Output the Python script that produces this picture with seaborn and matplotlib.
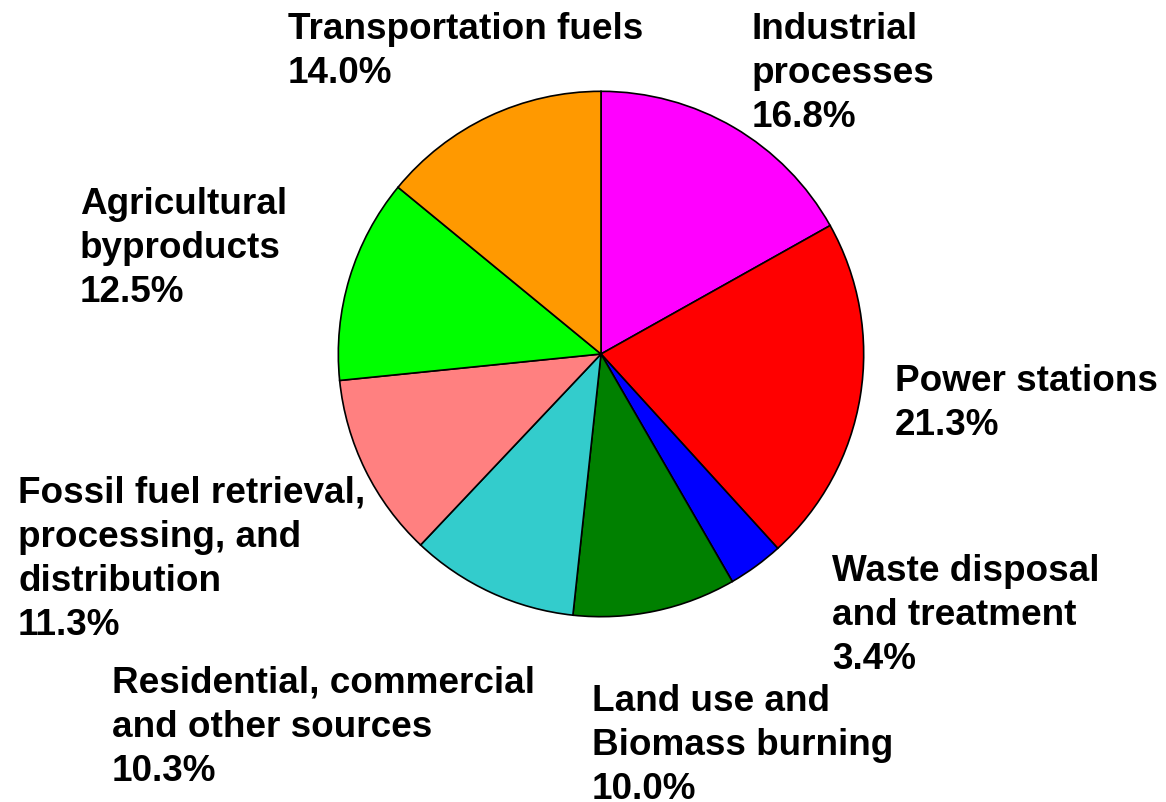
import matplotlib
matplotlib.use('Agg')
import matplotlib.pyplot as plt
import seaborn as sns

sns.set_theme(style='white')
plt.rcParams['font.family'] = ['Liberation Sans', 'DejaVu Sans']

# Данные
sources = ['Industrial\nprocesses', 'Power stations', 'Waste disposal\nand treatment',
           'Land use and\nBiomass burning', 'Residential, commercial\nand other sources',
           'Fossil fuel retrieval,\nprocessing, and\ndistribution',
           'Agricultural\nbyproducts', 'Transportation fuels']
shares = [16.8, 21.3, 3.4, 10.0, 10.3, 11.3, 12.5, 14.0]
colors = ['#FF00FF', '#FF0000', '#0000FF', '#008000', '#33CCCC', '#FF8080', '#00FF00', '#FF9900']

# Положение подписей (пиксели, левый верхний угол)
label_pos = [(752, 12), (895, 364), (832, 554), (592, 684),
             (112, 666), (18, 476), (80, 187), (288, 12)]

W, H = 1166, 803
fig = plt.figure(figsize=(W / 100, H / 100), dpi=100)
cx, cy, r = 601, 355, 264
ax = fig.add_axes([(cx - r) / W, (H - cy - r) / H, 2 * r / W, 2 * r / H])
ax.pie(shares, colors=colors, startangle=90, counterclock=False, radius=1,
       wedgeprops={'edgecolor': 'black', 'linewidth': 1.2})
ax.set_xlim(-1.005, 1.005)
ax.set_ylim(-1.005, 1.005)
ax.set_aspect('equal')
ax.axis('off')

for name, val, (px, py) in zip(sources, shares, label_pos):
    fig.text(px / W, 1 - py / H, f'{name}\n{val:.1f}%', ha='left', va='top',
             fontsize=26.6, fontweight='bold', color='black', linespacing=1.33)

fig.savefig('out.png', dpi=100, facecolor='white')
